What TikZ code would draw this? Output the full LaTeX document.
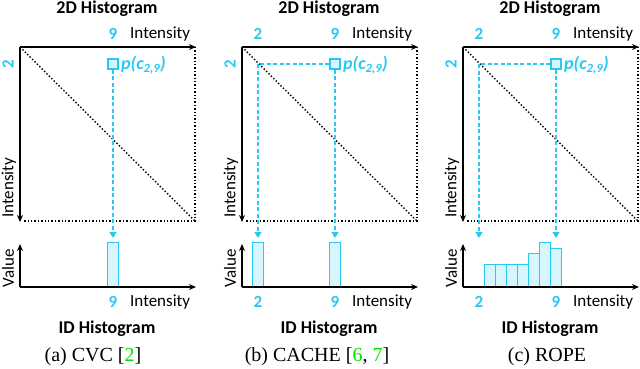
\documentclass[tikz,border=0pt]{standalone}
\usepackage{fontspec}
\setmainfont{Carlito}
\newfontfamily\capfont{Liberation Serif}
\usetikzlibrary{arrows.meta}
\definecolor{cy}{RGB}{40,200,245}
\definecolor{cyfill}{RGB}{215,245,253}
\definecolor{refgreen}{RGB}{0,225,0}
\begin{document}
\begin{tikzpicture}[x=1pt,y=-1pt,
  axis/.style={line width=1.4pt,-{Stealth[length=7pt,width=6pt]}},
  dotl/.style={line width=1.4pt,dotted},
  cdash/.style={cy,line width=1.4pt,dash pattern=on 4pt off 2.5pt},
  carrow/.style={cdash,-{Triangle[length=6pt,width=7pt]}},
  bar/.style={draw=cy,fill=cyfill,line width=1.3pt,minimum width=11pt,inner sep=0pt,anchor=south},
  lbl/.style={font=\fontsize{17}{17}\selectfont,inner sep=0pt},
  num/.style={text=cy,font=\fontsize{17}{17}\selectfont\bfseries,inner sep=0pt},
  ttl/.style={font=\fontsize{18}{18}\selectfont\bfseries,inner sep=0pt},
  captext/.style={font=\fontsize{20}{20}\selectfont\capfont,inner sep=0pt},
  sq/.style={draw=cy,fill=cyfill,line width=1.4pt,minimum size=10pt,inner sep=0pt},
  plbl/.style={text=cy,font=\fontsize{18}{18}\selectfont\bfseries\itshape,inner sep=0pt,anchor=west}
]
\useasboundingbox (0,0) rectangle (640,368);

% ---------------- panel (a)
\begin{scope}
\node[ttl] (aT) at (107,9) {2D Histogram};
\coordinate (aO) at (20,47);
\coordinate (aX) at (196,47);
\coordinate (aR) at (195,47);
\coordinate (aY) at (20,222);
\coordinate (aC) at (195,221);
\coordinate (aYb) at (23,221);
\draw[dotl] (aR) -- (aC) -- (aYb);
\draw[dotl] (aO) -- (aC);
\draw[axis] (aO) -- (aX);
\draw[axis] (aO) -- (aY);
\node[num] (a9) at (113,34) {9};
\node[lbl,anchor=west] (aI) at (130,34) {Intensity};
\node[num,rotate=90] (a2) at (8,64) {2};
\node[lbl,rotate=90,anchor=west] (aIv) at (9,218) {Intensity};
\node[sq] (aS) at (113,64) {};
\node[plbl] (aP) at (121,65) {p(c\textsubscript{2,9})};
\coordinate (aA) at (113,238);
\draw[carrow] (aS) -- (aA);
\node[bar,minimum height=44pt] (aH) at (113,287) {};
\coordinate (aB) at (20,287);
\coordinate (aBx) at (196,287);
\coordinate (aBy) at (20,244);
\draw[axis] (aB) -- (aBx);
\draw[axis] (aB) -- (aBy);
\node[lbl,rotate=90] (aV) at (8,268) {Value};
\node[num] (a9b) at (113,302) {9};
\node[lbl,anchor=west] (aIb) at (130,302) {Intensity};
\node[ttl] (aT2) at (107,329) {ID Histogram};
\node[captext] (aCap) at (93,357) {(a) CVC [\textcolor{refgreen}{2}]};
\end{scope}

% ---------------- panel (b)
\begin{scope}[xshift=222pt]
\node[ttl] (bT) at (107,9) {2D Histogram};
\coordinate (bO) at (20,47);
\coordinate (bX) at (196,47);
\coordinate (bR) at (195,47);
\coordinate (bY) at (20,222);
\coordinate (bC) at (195,221);
\coordinate (bYb) at (23,221);
\draw[dotl] (bR) -- (bC) -- (bYb);
\draw[dotl] (bO) -- (bC);
\draw[axis] (bO) -- (bX);
\draw[axis] (bO) -- (bY);
\node[num] (b2t) at (36,34) {2};
\node[num] (b9) at (113,34) {9};
\node[lbl,anchor=west] (bI) at (130,34) {Intensity};
\node[num,rotate=90] (b2) at (8,64) {2};
\node[lbl,rotate=90,anchor=west] (bIv) at (9,218) {Intensity};
\node[sq] (bS) at (113,64) {};
\node[plbl] (bP) at (121,65) {p(c\textsubscript{2,9})};
\coordinate (bK) at (36,64);
\coordinate (bA) at (113,238);
\coordinate (bA2) at (36,238);
\draw[cdash] (bS) -- (bK);
\draw[carrow] (bK) -- (bA2);
\draw[carrow] (bS) -- (bA);
\node[bar,minimum height=44pt] (bH2) at (36,287) {};
\node[bar,minimum height=44pt] (bH9) at (113,287) {};
\coordinate (bB) at (20,287);
\coordinate (bBx) at (196,287);
\coordinate (bBy) at (20,244);
\draw[axis] (bB) -- (bBx);
\draw[axis] (bB) -- (bBy);
\node[lbl,rotate=90] (bV) at (8,268) {Value};
\node[num] (b2b) at (36,302) {2};
\node[num] (b9b) at (113,302) {9};
\node[lbl,anchor=west] (bIb) at (130,302) {Intensity};
\node[ttl] (bT2) at (107,329) {ID Histogram};
\node[captext] (bCap) at (95,357) {(b) CACHE [\textcolor{refgreen}{6}, \textcolor{refgreen}{7}]};
\end{scope}

% ---------------- panel (c)
\begin{scope}[xshift=443pt]
\node[ttl] (cT) at (107,9) {2D Histogram};
\coordinate (cO) at (20,47);
\coordinate (cX) at (196,47);
\coordinate (cR) at (195,47);
\coordinate (cY) at (20,222);
\coordinate (cC) at (195,221);
\coordinate (cYb) at (23,221);
\draw[dotl] (cR) -- (cC) -- (cYb);
\draw[dotl] (cO) -- (cC);
\draw[axis] (cO) -- (cX);
\draw[axis] (cO) -- (cY);
\node[num] (c2t) at (36,34) {2};
\node[num] (c9) at (113,34) {9};
\node[lbl,anchor=west] (cI) at (130,34) {Intensity};
\node[num,rotate=90] (c2) at (8,64) {2};
\node[lbl,rotate=90,anchor=west] (cIv) at (9,218) {Intensity};
\node[sq] (cS) at (113,64) {};
\node[plbl] (cP) at (121,65) {p(c\textsubscript{2,9})};
\coordinate (cK) at (36,64);
\coordinate (cA) at (113,238);
\coordinate (cA2) at (36,238);
\draw[cdash] (cS) -- (cK);
\draw[carrow] (cK) -- (cA2);
\draw[carrow] (cS) -- (cA);
\foreach \k/\h in {1/22,2/22,3/22,4/22,5/33,6/44,7/38}{
  \node[bar,minimum height=\h pt] (cH\k) at ({36+11*\k},287) {};
}
\coordinate (cB) at (20,287);
\coordinate (cBx) at (196,287);
\coordinate (cBy) at (20,244);
\draw[axis] (cB) -- (cBx);
\draw[axis] (cB) -- (cBy);
\node[lbl,rotate=90] (cV) at (8,268) {Value};
\node[num] (c2b) at (36,302) {2};
\node[num] (c9b) at (113,302) {9};
\node[lbl,anchor=west] (cIb) at (130,302) {Intensity};
\node[ttl] (cT2) at (107,329) {ID Histogram};
\node[captext] (cCap) at (104,357) {(c) ROPE};
\end{scope}
\end{tikzpicture}
\end{document}
